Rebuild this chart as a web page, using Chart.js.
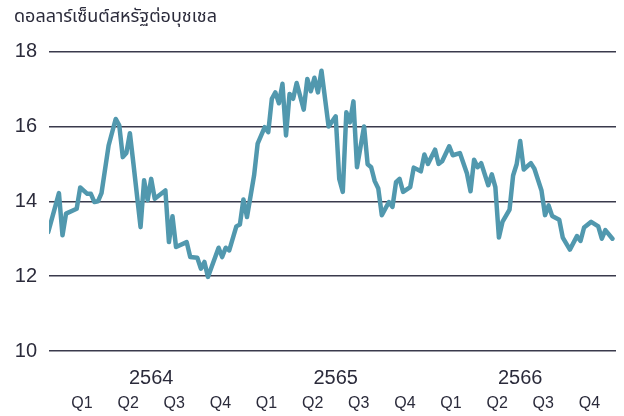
<!DOCTYPE html>
<html>
<head>
<meta charset="utf-8">
<script src="https://cdn.jsdelivr.net/npm/chart.js@4"></script>
<style>
  html, body { margin: 0; padding: 0; background: #fff; }
  #wrap { width: 624px; height: 416px; }
</style>
</head>
<body>
<div id="wrap"><canvas id="myChart"></canvas></div>
<script>
// weeks counted from the start of 2564, price in US cents per bushel
var weeks = [-3, 0, 1, 2, 5, 6, 8, 9, 10, 11, 12, 14, 16, 17, 18, 19, 20, 21, 23, 24,
  25, 26, 27, 30, 31, 32, 33, 36, 37, 39, 40, 41, 42, 45, 46, 47, 48, 50, 51, 52,
  53, 55, 56, 58, 59, 60, 61, 62, 63, 64, 65, 66, 67, 69, 70, 71, 72, 73, 74, 76,
  78, 79, 80, 81, 82, 83, 84, 86, 87, 88, 89, 90, 91, 93, 94, 95, 96, 97, 99, 100,
  102, 103, 104, 106, 107, 108, 110, 111, 113, 115, 116, 117, 118, 119, 121, 122, 123, 124, 125, 127,
  128, 129, 130, 131, 133, 134, 136, 137, 138, 139, 141, 142, 144, 146, 147, 148, 150, 152, 153, 154,
  156];
var prices = [13.18, 14.22, 13.09, 13.67, 13.8, 14.37, 14.2, 14.2, 13.98, 14.0, 14.22, 15.49, 16.2, 16.03, 15.18, 15.29, 15.82, 15.0, 13.31, 14.56,
  14.03, 14.6, 14.07, 14.29, 12.91, 13.6, 12.78, 12.91, 12.51, 12.49, 12.2, 12.38, 11.98, 12.76, 12.51, 12.76, 12.69, 13.33, 13.38, 14.05,
  13.58, 14.69, 15.54, 15.98, 15.85, 16.74, 16.91, 16.62, 17.14, 15.76, 16.87, 16.74, 17.16, 16.45, 17.27, 16.94, 17.3, 16.91, 17.49, 16.0,
  16.27, 14.6, 14.25, 16.38, 16.11, 16.67, 14.91, 16.0, 14.99, 14.91, 14.54, 14.34, 13.63, 13.98, 13.85, 14.51, 14.6, 14.25, 14.38, 14.9,
  14.8, 15.25, 15.0, 15.38, 15.0, 15.07, 15.47, 15.23, 15.29, 14.74, 14.27, 15.11, 14.91, 15.02, 14.43, 14.72, 14.38, 13.03, 13.45, 13.78,
  14.69, 14.99, 15.61, 14.85, 15.02, 14.87, 14.29, 13.63, 13.89, 13.61, 13.51, 13.03, 12.71, 13.07, 12.94, 13.3, 13.45, 13.33, 13.0, 13.23,
  13.0];

var yearLabels = ['2564', '2565', '2566'];
var quarterLabels = ['Q1', 'Q2', 'Q3', 'Q4'];
var yTicks = [10, 12, 14, 16, 18];

var WEEKS_PER_YEAR = 52;
var textColor = '#2b2b3b';
var numFont = "'Liberation Sans', Arial, sans-serif";

var points = weeks.map(function(w, i) { return { x: w, y: prices[i] }; });

var ctx = document.getElementById('myChart');
var myChart = new Chart(ctx, {
  type: 'line',
  data: {
    datasets: [{
      data: points,
      borderColor: '#5198ae',
      borderWidth: 4.5,
      borderJoinStyle: 'round',
      borderCapStyle: 'round',
      pointRadius: 0,
      tension: 0,
      fill: false
    }]
  },
  options: {
    responsive: true,
    maintainAspectRatio: false,
    animation: false,
    layout: {
      padding: { left: 14, right: 8, top: 0, bottom: 4 }
    },
    plugins: {
      legend: { display: false },
      tooltip: { enabled: false },
      title: {
        display: true,
        text: 'ดอลลาร์เซ็นต์สหรัฐต่อบุชเชล',
        align: 'start',
        color: textColor,
        font: { family: "'Noto Sans Thai', 'Noto Sans', sans-serif", size: 18, weight: 'normal' },
        padding: { top: 8, bottom: 22 }
      }
    },
    scales: {
      x: {
        type: 'linear',
        position: 'bottom',
        weight: 0,
        min: -2.8,
        max: 157,
        grid: { display: false, drawTicks: false },
        border: { display: false },
        afterBuildTicks: function(scale) {
          scale.ticks = yearLabels.map(function(y, i) {
            return { value: i * WEEKS_PER_YEAR + WEEKS_PER_YEAR / 2 };
          });
        },
        afterFit: function(scale) { scale.height = 39; },
        ticks: {
          autoSkip: false,
          maxRotation: 0,
          padding: 15,
          color: textColor,
          font: { family: numFont, size: 20 },
          callback: function(value, index) { return yearLabels[index]; }
        }
      },
      q: {
        type: 'linear',
        axis: 'x',
        position: 'bottom',
        weight: 1,
        min: -2.8,
        max: 157,
        grid: { display: false, drawTicks: false },
        border: { display: false },
        afterBuildTicks: function(scale) {
          var t = [];
          yearLabels.forEach(function(y, yi) {
            quarterLabels.forEach(function(q, qi) {
              t.push({ value: yi * WEEKS_PER_YEAR + (qi + 0.5) * WEEKS_PER_YEAR / 4 });
            });
          });
          scale.ticks = t;
        },
        afterFit: function(scale) { scale.height = 22; },
        ticks: {
          autoSkip: false,
          maxRotation: 0,
          padding: 4,
          color: textColor,
          font: { family: numFont, size: 16 },
          callback: function(value, index) { return quarterLabels[index % 4]; }
        }
      },
      y: {
        min: 10,
        max: 18,
        afterBuildTicks: function(scale) {
          scale.ticks = yTicks.map(function(v) { return { value: v }; });
        },
        afterFit: function(scale) { scale.width = 35; },
        grid: { color: '#3a3a4c', lineWidth: 1.5, drawTicks: false },
        border: { display: false },
        ticks: {
          padding: 12,
          color: textColor,
          font: { family: numFont, size: 20 }
        }
      }
    }
  }
});
</script>
</body>
</html>
